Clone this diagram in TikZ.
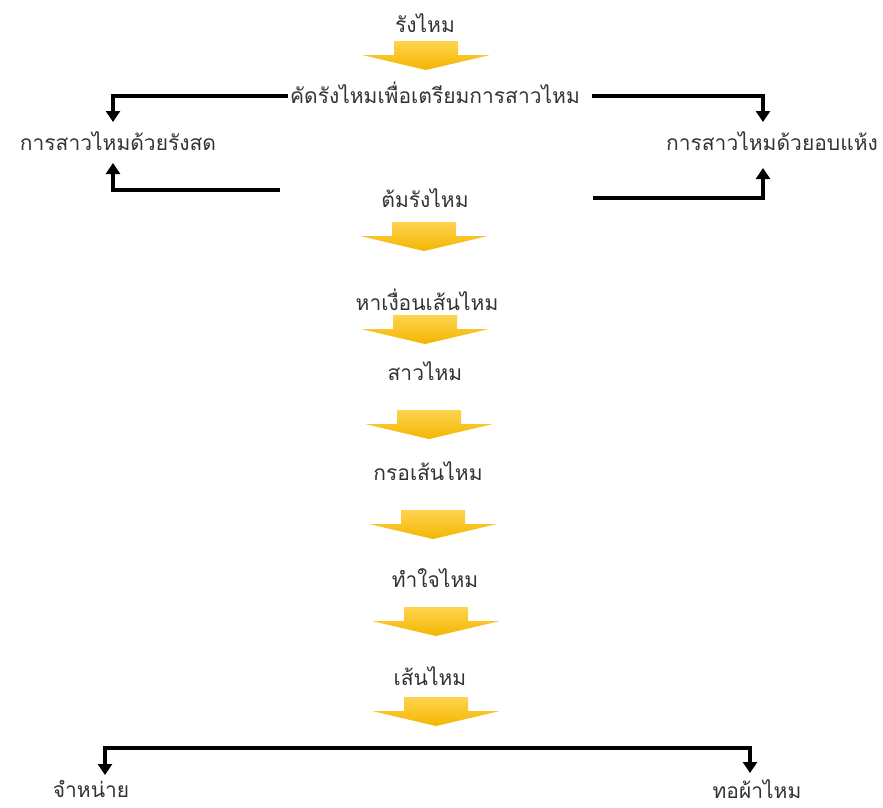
\documentclass[tikz,border=0pt]{standalone}
\usepackage{fontspec}
\newfontfamily\thai[Script=Thai]{Loma}
\usetikzlibrary{arrows.meta,positioning,calc}
\definecolor{arrowtop}{HTML}{FFD34F}
\definecolor{arrowbot}{HTML}{F3B600}
\definecolor{ink}{HTML}{333333}

\begin{document}
\begin{tikzpicture}[
  x=1pt, y=-1pt,
  font=\thai\fontsize{21}{24}\selectfont,
  stage/.style={text=ink, inner sep=2pt},
  conn/.style={-{Triangle[length=11pt,width=14pt]}, line width=4pt},
  pics/flow/.style={code={
    \shade[top color=arrowtop, bottom color=arrowbot]
      (-32,0) -- (32,0) -- (32,14) -- (64,14) -- (0,29) -- (-64,14) -- (-32,14) -- cycle;
  }}
]
\useasboundingbox (0,0) rectangle (883,807);

% process steps
\node[stage] (cocoon) at (425,23) {รังไหม};
\node[stage] (select) at (435,93) {คัดรังไหมเพื่อเตรียมการสาวไหม};
\node[stage] (fresh) at (118,141) {การสาวไหมด้วยรังสด};
\node[stage] (dry) at (772,141) {การสาวไหมด้วยอบแห้ง};
\node[stage] (boil) at (425,198) {ต้มรังไหม};
\node[stage] (find) at (427,300) {หาเงื่อนเส้นไหม};
\node[stage] (reel) at (425,371) {สาวไหม};
\node[stage] (wind) at (428,471) {กรอเส้นไหม};
\node[stage] (core) at (435,578) {ทำใจไหม};
\node[stage] (yarn) at (430,676) {เส้นไหม};
\node[stage] (sell) at (91,789) {จำหน่าย};
\node[stage] (weave) at (757,789) {ทอผ้าไหม};

% block arrows
\pic at (426,41) {flow};
\pic at (424,222) {flow};
\pic at (425,315) {flow};
\pic at (429,410) {flow};
\pic at (433,510) {flow};
\pic at (436,607) {flow};
\pic at (436,697) {flow};

% side branches
\coordinate (boilW) at (280,190);
\coordinate (boilE) at (593,198);
\coordinate (split) at (428,748);
\draw[conn, shorten >=19pt] ([yshift=-3]select.west) -| ([xshift=-5]fresh.center);
\draw[conn, shorten >=22pt] (boilW) -| ([xshift=-5]fresh.center);
\draw[conn, shorten >=19pt] ([xshift=10,yshift=-3]select.east) -| ([xshift=-9]dry.center);
\draw[conn, shorten >=27pt] (boilE) -| ([xshift=-9]dry.center);
\draw[conn, shorten >=14pt] (split) -| ([xshift=14]sell.center);
\draw[conn, shorten >=16pt] (split) -| ([xshift=-7]weave.center);
\end{tikzpicture}
\end{document}
